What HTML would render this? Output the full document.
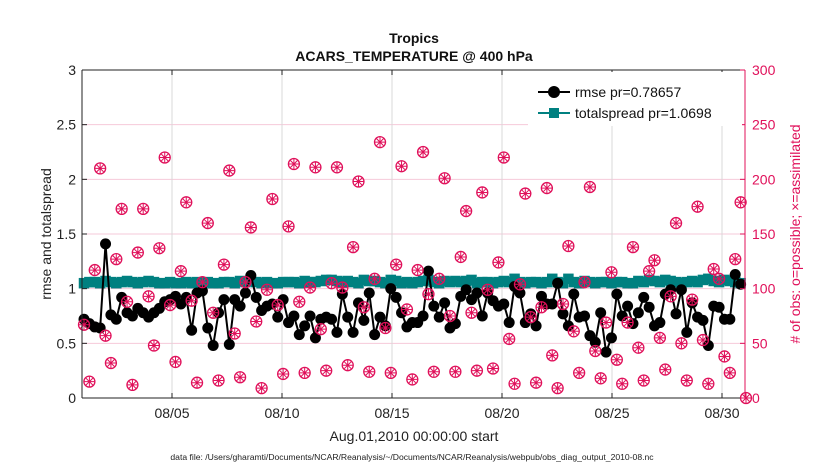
<!DOCTYPE html>
<html><head><meta charset="utf-8"><style>
body{margin:0;background:#fff;font-family:"Liberation Sans",sans-serif}
svg text{font-family:"Liberation Sans",sans-serif}
</style></head><body>
<svg id="chart" width="830" height="470" xmlns="http://www.w3.org/2000/svg">
<rect width="830" height="470" fill="#fff"/>
<g id="grid"></g>
<g id="series"></g>
<g id="obslayer"></g>
<g id="axes"></g>
</svg>
<script>
const tickDays=[5,10,15,20,25,30];
const tickLabels=["08/05","08/10","08/15","08/20","08/25","08/30"];
const leftTicks=[0,0.5,1,1.5,2,2.5,3];
const leftTickLabels=["0","0.5","1","1.5","2","2.5","3"];
const rightTicks=[0,50,100,150,200,250,300];
const obsCount=[67,15,117,210,57,32,127,173,88,12,133,173,93,48,137,220,85,33,116,179,89,14,106,160,78,16,122,
208,59,19,106,156,70,9,99,182,85,22,157,214,88,23,101,211,63,25,105,211,101,30,138,
198,83,24,109,234,64,23,122,212,81,17,117,225,95,24,109,201,75,24,129,171,78,25,188,
99,27,124,220,54,13,104,187,74,14,83,192,39,9,86,139,61,23,106,193,43,18,69,115,
35,13,69,138,46,16,116,126,55,26,93,160,50,16,90,175,53,13,118,109,38,23,127,179,0];
const rmse=[0.72,0.68,0.65,0.64,1.41,0.76,0.72,0.92,0.78,0.75,0.82,0.78,0.74,0.78,0.82,0.88,0.90,0.93,0.86,0.92,0.62,0.96,0.98,0.64,0.48,0.78,0.90,
0.49,0.90,0.84,0.96,1.12,0.92,0.80,0.84,0.86,0.74,0.90,0.69,0.75,0.58,0.66,0.75,0.55,0.72,0.74,0.72,0.60,0.95,
0.74,0.60,0.87,0.71,0.96,0.58,0.74,0.66,1.0,0.92,0.78,0.65,0.69,0.69,0.75,1.16,0.84,0.74,0.87,0.64,0.68,0.93,0.99,0.90,
0.96,0.75,0.96,0.89,0.84,0.86,0.69,1.02,0.96,0.69,0.77,0.66,0.93,0.86,0.86,1.05,0.77,0.66,0.95,0.74,0.75,0.57,0.51,0.78,
0.42,0.55,0.95,0.75,0.84,0.68,0.78,0.92,0.83,0.66,0.69,0.95,0.99,0.77,0.99,0.60,0.87,0.74,0.71,0.48,0.84,0.83,0.72,0.72,1.13,1.04];
const spread=[1.05,1.06,1.06,1.05,1.07,1.06,1.05,1.06,1.07,1.06,1.05,1.06,1.07,1.06,1.05,1.05,1.06,1.05,1.05,1.06,1.05,1.06,1.05,1.06,1.05,1.05,1.06,
1.06,1.05,1.07,1.06,1.07,1.06,1.05,1.06,1.05,1.05,1.06,1.06,1.06,1.05,1.07,1.06,1.06,1.07,1.08,1.08,1.07,1.06,
1.07,1.06,1.05,1.08,1.07,1.07,1.06,1.05,1.08,1.07,1.05,1.06,1.05,1.06,1.07,1.08,1.06,1.05,1.07,1.06,1.07,1.06,1.07,1.08,
1.05,1.06,1.06,1.05,1.06,1.07,1.06,1.09,1.06,1.05,1.06,1.06,1.05,1.06,1.09,1.06,1.05,1.09,1.06,1.05,1.07,1.06,1.05,1.06,
1.06,1.05,1.06,1.06,1.05,1.05,1.07,1.06,1.08,1.07,1.06,1.08,1.07,1.06,1.05,1.06,1.07,1.06,1.08,1.09,1.07,1.06,1.08,1.07,1.06,1.05];

const L=82,R=745,T=70,B=398;
const NS="http://www.w3.org/2000/svg";
function xDay(d){return 84+(d-1)*22;}
function xIdx(i){return 84+i*(662/(obsCount.length-1));}
function yL(v){return B-(v/3)*(B-T);}
function yR(v){return B-(v/300)*(B-T);}
function mk(tag,attrs,parent){const e=document.createElementNS(NS,tag);for(const k in attrs)e.setAttribute(k,attrs[k]);parent.appendChild(e);return e;}
const grid=document.getElementById('grid'),ser=document.getElementById('series'),obsL=document.getElementById('obslayer'),ax=document.getElementById('axes');

rightTicks.forEach(v=>{if(v>0&&v<300){const l=mk('line',{x1:L,x2:R,y1:yR(v),y2:yR(v),stroke:'#f6c9d9','stroke-width':1},grid);

}});
tickDays.forEach(d=>{const l=mk('line',{x1:xDay(d),x2:xDay(d),y1:T,y2:B,stroke:'#d8d8d8','stroke-width':1},grid);

});

// spread
const sp=mk('polyline',{points:spread.map((v,i)=>xIdx(i)+','+yL(v)).join(' '),fill:'none',stroke:'#008080','stroke-width':2},ser);


spread.forEach((v,i)=>{const r=mk('rect',{x:xIdx(i)-5.25,y:yL(v)-5.25,width:10.5,height:10.5,fill:'#008080'},ser);

});

// rmse
const rl=mk('polyline',{points:rmse.map((v,i)=>xIdx(i)+','+yL(v)).join(' '),fill:'none',stroke:'#000','stroke-width':2},ser);


rmse.forEach((v,i)=>{const c=mk('circle',{cx:xIdx(i),cy:yL(v),r:5.5,fill:'#000'},ser);

});

// obs markers (on top)
obsCount.forEach((v,i)=>{const g=mk('g',{},obsL);


const cx=xIdx(i),cy=yR(v);
mk('circle',{cx:cx,cy:cy,r:5.5,fill:'none',stroke:'#e0105a','stroke-width':1.3},g);
mk('path',{d:`M${cx-5} ${cy}H${cx+5}M${cx} ${cy-5}V${cy+5}M${cx-3.5} ${cy-3.5}L${cx+3.5} ${cy+3.5}M${cx-3.5} ${cy+3.5}L${cx+3.5} ${cy-3.5}`,stroke:'#e0105a','stroke-width':1},g);});

// axes box
mk('line',{x1:L,x2:R,y1:T,y2:T,stroke:'#222','stroke-width':1},ax);
mk('line',{x1:L,x2:R,y1:B,y2:B,stroke:'#222','stroke-width':1},ax);
mk('line',{x1:L,x2:L,y1:T,y2:B,stroke:'#222','stroke-width':1},ax);
mk('line',{x1:R,x2:R,y1:T,y2:B,stroke:'#e0105a','stroke-width':1},ax);
leftTicks.forEach((v,i)=>{mk('line',{x1:L,x2:L+5,y1:yL(v),y2:yL(v),stroke:'#222'},ax);
const t=mk('text',{x:L-6,y:yL(v)+5,'text-anchor':'end','font-size':14,fill:'#222'},ax);t.textContent=leftTickLabels[i];

});
rightTicks.forEach(v=>{mk('line',{x1:R-5,x2:R,y1:yR(v),y2:yR(v),stroke:'#e0105a'},ax);
const t=mk('text',{x:R+7,y:yR(v)+5,'font-size':14,fill:'#e0105a'},ax);t.textContent=v;

});
tickDays.forEach((d,i)=>{mk('line',{x1:xDay(d),x2:xDay(d),y1:B-5,y2:B,stroke:'#222'},ax);
mk('line',{x1:xDay(d),x2:xDay(d),y1:T,y2:T+5,stroke:'#222'},ax);
const t=mk('text',{x:xDay(d),y:B+20,'text-anchor':'middle','font-size':14,fill:'#222'},ax);t.textContent=tickLabels[i];

});
</script>
<svg style="position:absolute;left:0;top:0" width="830" height="470" xmlns="http://www.w3.org/2000/svg">
<text x="414" y="43" text-anchor="middle" font-size="14" font-weight="bold" fill="#111">Tropics</text>
<text x="414" y="61" text-anchor="middle" font-size="14" font-weight="bold" fill="#111">ACARS_TEMPERATURE @ 400 hPa</text>
<text transform="translate(51,234) rotate(-90)" text-anchor="middle" font-size="14" fill="#222">rmse and totalspread</text>
<text transform="translate(800,234) rotate(-90)" text-anchor="middle" font-size="14" fill="#e0105a"># of obs: o=possible; ×=assimilated</text>
<text x="414" y="441" text-anchor="middle" font-size="14" fill="#222">Aug.01,2010 00:00:00 start</text>
<text x="412" y="460" text-anchor="middle" font-size="8.6" fill="#222">data file: /Users/gharamti/Documents/NCAR/Reanalysis/~/Documents/NCAR/Reanalysis/webpub/obs_diag_output_2010-08.nc</text>
<g>
<rect x="528" y="72" width="214" height="54" fill="#fff"/>
<g>
<line x1="538" y1="92" x2="570" y2="92" stroke="#000" stroke-width="2"/>
<circle cx="554" cy="92" r="6" fill="#000"/>
<text x="575" y="97" font-size="14" fill="#111">rmse pr=0.78657</text>
</g>
<g>
<line x1="538" y1="113" x2="570" y2="113" stroke="#008080" stroke-width="2"/>
<rect x="549" y="108" width="10" height="10" fill="#008080"/>
<text x="575" y="118" font-size="14" fill="#111">totalspread pr=1.0698</text>
</g>
</g>
</svg>
</body></html>
